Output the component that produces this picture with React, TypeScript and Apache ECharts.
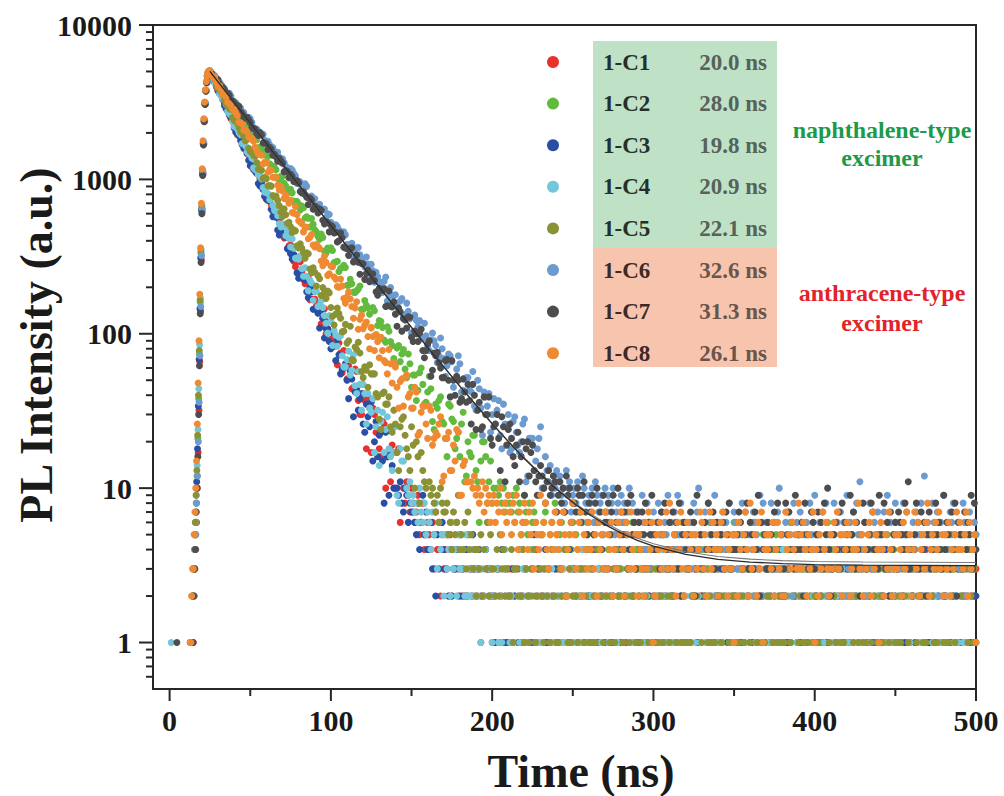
import React, { useEffect, useRef } from "react";
import * as echarts from "echarts";

// ---------- labels ----------
const sampleNames = ["1-C1", "1-C2", "1-C3", "1-C4", "1-C5", "1-C6", "1-C7", "1-C8"];
const lifetimes = ["20.0 ns", "28.0 ns", "19.8 ns", "20.9 ns", "22.1 ns", "32.6 ns", "31.3 ns", "26.1 ns"];
const seriesColors = ["#e8312c", "#62bb3e", "#2a4ea3", "#72c7db", "#8b9234", "#6b9bd1", "#4d4d4f", "#f08a32"];

const xMajorTicks = [0, 100, 200, 300, 400, 500];
const xMinorTicks = [50, 150, 250, 350, 450];
const yMajorTicks = [1, 10, 100, 1000, 10000];
const yMajorLabels = ["1", "10", "100", "1000", "10000"];
const yMinorTicks = [0.6, 0.7, 0.8, 0.9, 2, 3, 4, 5, 6, 7, 8, 9, 20, 30, 40, 50, 60, 70, 80, 90,
  200, 300, 400, 500, 600, 700, 800, 900, 2000, 3000, 4000, 5000, 6000, 7000, 8000, 9000];

const X_MIN = -10.3;
const X_MAX = 500;
const Y_MIN = 0.5;
const Y_MAX = 10000;

// ---------- data: pre-pulse points [t, counts] ----------
const preC1: number[][] = [];
const preC2: number[][] = [];
const preC3: number[][] = [];
const preC4 = [[1, 1]];
const preC5: number[][] = [];
const preC6: number[][] = [];
const preC7 = [[4.5, 1]];
const preC8: number[][] = [];

// rising edge, 0.5 ns steps from riseStart (0 = no count)
const riseStart = [13.2, 13.0, 12.8, 13.1, 12.9, 13.3, 13.0, 12.7];
const riseC1 = [0, 1, 1, 1, 2, 3, 4, 6, 10, 17, 32, 66, 140, 300, 620, 1080, 1690, 2380, 3080, 3740, 4240, 4640, 4890, 4990];
const riseC2 = [0, 0, 1, 2, 2, 3, 5, 8, 12, 21, 38, 74, 160, 330, 650, 1120, 1720, 2420, 3120, 3770, 4270, 4660, 4910, 5010];
const riseC3 = [1, 0, 1, 2, 3, 3, 5, 7, 11, 18, 34, 68, 145, 310, 630, 1090, 1700, 2390, 3090, 3750, 4250, 4650, 4900, 5000];
const riseC4 = [0, 1, 1, 2, 2, 4, 6, 9, 14, 24, 44, 85, 170, 350, 680, 1150, 1750, 2450, 3150, 3790, 4290, 4680, 4920, 5040];
const riseC5 = [0, 1, 2, 2, 3, 4, 6, 9, 13, 22, 40, 78, 165, 340, 660, 1130, 1730, 2430, 3130, 3780, 4280, 4670, 4910, 4990];
const riseC6 = [0, 1, 0, 2, 3, 4, 5, 8, 12, 20, 36, 72, 150, 320, 640, 1100, 1710, 2400, 3100, 3760, 4260, 4660, 4900, 4980];
const riseC7 = [0, 0, 1, 1, 2, 3, 4, 7, 10, 16, 30, 62, 135, 290, 600, 1060, 1670, 2360, 3060, 3730, 4230, 4640, 4880, 5010];
const riseC8 = [1, 1, 2, 3, 3, 5, 7, 10, 15, 26, 48, 90, 180, 360, 700, 1170, 1780, 2470, 3170, 3800, 4300, 4690, 4930, 5030];

// decay, even channels: 2 ns steps from t = 25 ns
const decayC1 = [4960, 4574, 3960, 3676, 3283, 3039, 2610, 2429, 2138, 2030, 1696, 1582, 1451, 1210, 1167, 1074, 907, 771, 776, 687,
  584, 589, 490, 418, 425, 375, 295, 295, 293, 224, 222, 166, 193, 151, 154, 126, 100, 126, 87, 88,
  87, 56, 62, 62, 44, 59, 37, 30, 37, 39, 17, 30, 24, 16, 26, 16, 11, 17, 17, 6];
const decayC2 = [4952, 4734, 4342, 3915, 3800, 3472, 3337, 2949, 2823, 2602, 2349, 2313, 2065, 1983, 1901, 1603, 1579, 1441, 1406, 1224,
  1195, 1013, 1046, 945, 861, 862, 724, 720, 633, 656, 573, 491, 511, 456, 409, 421, 332, 351, 346, 292,
  253, 269, 269, 206, 211, 185, 195, 144, 164, 147, 109, 141, 113, 120, 91, 111, 89, 69, 81, 66,
  79, 52, 64, 54, 37, 56, 47, 36, 53, 27, 35, 37, 27, 21, 35, 28, 18, 23, 26, 11, 20, 16, 22, 11, 15, 20, 8, 15, 10];
const decayC3 = [5030, 4400, 4091, 3603, 3349, 2869, 2621, 2405, 2019, 1917, 1679, 1581, 1329, 1229, 1131, 941, 953, 781, 729, 640,
  603, 470, 482, 450, 356, 330, 326, 248, 248, 230, 187, 199, 144, 143, 109, 126, 108, 89, 102, 67,
  73, 59, 64, 38, 51, 42, 32, 41, 23, 29, 36, 20, 16, 23, 8, 16, 17, 10];
const decayC4 = [5062, 4483, 4159, 3583, 3334, 3055, 2667, 2382, 2282, 2004, 1709, 1649, 1467, 1372, 1158, 1067, 1008, 826, 808, 765,
  630, 582, 492, 495, 460, 365, 358, 309, 320, 236, 236, 222, 165, 188, 153, 148, 117, 131, 84, 98,
  95, 72, 61, 77, 58, 46, 57, 32, 41, 41, 31, 17, 32, 27, 17, 29, 16, 17, 9, 18, 15];
const decayC5 = [4985, 4623, 4053, 3821, 3525, 3095, 2882, 2516, 2430, 2166, 2058, 1778, 1590, 1521, 1414, 1164, 1146, 1033, 909, 904,
  769, 731, 612, 644, 520, 494, 471, 372, 382, 335, 335, 263, 268, 204, 227, 199, 169, 184, 130, 134,
  135, 103, 115, 90, 68, 82, 88, 57, 61, 45, 55, 55, 39, 24, 42, 35, 25, 32, 17, 25, 29, 18, 13, 19, 20, 8, 13, 10];
const decayC6 = [4979, 4772, 4346, 4262, 3950, 3671, 3613, 3200, 3132, 2985, 2750, 2536, 2525, 2340, 2077, 2058, 1971, 1791, 1766, 1569,
  1520, 1500, 1292, 1284, 1181, 1177, 1091, 942, 963, 882, 901, 764, 748, 667, 689, 636, 567, 593, 480, 508,
  469, 430, 437, 360, 385, 332, 362, 306, 271, 283, 282, 216, 234, 214, 219, 163, 199, 177, 154, 163,
  129, 158, 125, 103, 122, 122, 93, 97, 78, 101, 84, 72, 80, 53, 74, 66, 51, 72, 42, 51,
  52, 42, 34, 50, 33, 42, 34, 23, 38, 32, 22, 35, 25, 17, 27, 23, 17, 26, 11, 21, 21, 15, 21, 10, 16];
const decayC7 = [5022, 4636, 4520, 4127, 3944, 3554, 3504, 3233, 2970, 2956, 2656, 2537, 2431, 2156, 2116, 1925, 1936, 1728, 1560, 1567,
  1455, 1311, 1320, 1121, 1124, 1080, 970, 984, 835, 831, 765, 757, 641, 659, 643, 543, 532, 457, 493, 455,
  400, 419, 360, 322, 361, 297, 291, 285, 225, 259, 223, 221, 178, 193, 196, 152, 151, 161, 112, 139,
  125, 109, 128, 89, 100, 101, 78, 78, 90, 58, 72, 65, 52, 67, 50, 67, 40, 50, 38, 42,
  47, 26, 40, 32, 24, 39, 30, 21, 25, 30, 13, 25, 19, 26, 16, 19, 11, 20, 18, 12, 19];
const decayC8 = [5038, 4547, 4280, 4035, 3548, 3405, 3078, 2860, 2708, 2343, 2285, 2094, 1882, 1847, 1616, 1459, 1434, 1291, 1113, 1145,
  1032, 917, 899, 753, 743, 733, 604, 592, 530, 457, 490, 422, 376, 378, 356, 276, 290, 245, 272, 226,
  200, 204, 158, 186, 150, 147, 107, 132, 114, 96, 110, 78, 89, 95, 67, 55, 64, 65, 45, 49,
  34, 54, 41, 33, 42, 23, 34, 26, 34, 19, 23, 26, 11, 21, 23, 13, 15, 23, 9, 15, 11];

// decay, odd channels: 2 ns steps from t = 26 ns
const midC1 = [4827, 4246, 3731, 3506, 3130, 2887, 2472, 2271, 1945, 1897, 1678, 1466, 1414, 1159, 1101, 1008, 873, 746, 780, 623,
  583, 546, 442, 458, 371, 355, 272, 302, 251, 211, 230, 168, 168, 159, 116, 145, 108, 92, 100, 63,
  75, 78, 51, 57, 45, 57, 30, 41, 18, 33, 33, 23, 18, 27, 10, 17, 19, 10, 18];
const midC2 = [4726, 4512, 4231, 3863, 3507, 3498, 3076, 2908, 2752, 2444, 2415, 2146, 2046, 1787, 1805, 1622, 1474, 1471, 1263, 1222,
  1154, 998, 1045, 904, 826, 818, 678, 689, 671, 562, 560, 557, 471, 426, 443, 343, 359, 361, 289, 295,
  266, 278, 206, 225, 186, 190, 204, 144, 153, 134, 148, 98, 122, 110, 88, 104, 84, 64, 84, 74,
  59, 74, 45, 54, 43, 60, 35, 42, 44, 24, 33, 39, 26, 16, 34, 27, 21, 16, 31, 12, 17, 22, 13, 6, 20, 16, 11, 8];
const midC3 = [4837, 4253, 3762, 3533, 3010, 2775, 2517, 2150, 2095, 1786, 1584, 1489, 1227, 1177, 1095, 906, 857, 745, 732, 574,
  568, 437, 456, 422, 350, 305, 316, 229, 233, 223, 171, 187, 145, 136, 143, 94, 107, 80, 83, 92,
  55, 60, 50, 58, 29, 44, 38, 26, 35, 25, 15, 27, 22, 15, 23, 9, 14];
const midC4 = [4860, 4221, 3903, 3471, 3271, 2770, 2615, 2200, 2123, 1946, 1694, 1508, 1452, 1190, 1136, 1054, 886, 873, 738, 678,
  661, 516, 516, 431, 415, 412, 308, 304, 264, 268, 190, 213, 188, 150, 163, 131, 101, 120, 105, 83,
  97, 61, 68, 54, 73, 41, 47, 47, 26, 33, 38, 25, 14, 31, 24, 18, 13, 25, 8, 15];
const midC5 = [4784, 4420, 3890, 3698, 3262, 2999, 2835, 2412, 2306, 2027, 1901, 1813, 1514, 1435, 1285, 1238, 1011, 1011, 912, 786,
  780, 674, 575, 590, 528, 453, 464, 360, 358, 308, 330, 249, 250, 238, 177, 185, 189, 148, 114, 147,
  126, 104, 87, 112, 67, 79, 75, 52, 58, 63, 55, 41, 28, 41, 35, 39, 23, 26, 13, 28, 22, 16, 25, 10, 16, 17, 11];
const midC6 = [4830, 4681, 4174, 4120, 3859, 3543, 3473, 3193, 2921, 2903, 2710, 2488, 2465, 2170, 2121, 1951, 1962, 1714, 1677, 1606,
  1405, 1390, 1362, 1216, 1087, 1151, 1057, 965, 885, 936, 770, 781, 748, 647, 645, 643, 598, 528, 465, 494,
  456, 457, 379, 377, 314, 359, 325, 287, 314, 242, 256, 250, 218, 185, 233, 176, 178, 179, 141, 169,
  133, 140, 101, 132, 111, 95, 117, 82, 91, 90, 65, 94, 69, 62, 72, 45, 59, 64, 43, 52,
  43, 57, 32, 44, 22, 39, 41, 30, 26, 37, 18, 26, 30, 18, 29, 19, 20, 28, 12, 21, 13, 18, 25, 10];
const midC7 = [4868, 4504, 4417, 3948, 3803, 3612, 3230, 3133, 3021, 2739, 2485, 2524, 2331, 2143, 1977, 2010, 1721, 1700, 1614, 1433,
  1397, 1365, 1271, 1142, 1025, 1045, 966, 948, 817, 795, 688, 736, 674, 605, 630, 515, 524, 504, 449, 393,
  451, 364, 357, 353, 292, 324, 243, 284, 246, 217, 245, 187, 197, 191, 150, 189, 149, 134, 147, 104,
  123, 129, 95, 104, 89, 107, 70, 86, 53, 75, 76, 60, 52, 68, 39, 50, 53, 36, 51, 36,
  37, 47, 24, 36, 25, 30, 39, 19, 26, 21, 29, 11, 24, 21, 14, 23, 16, 9, 20, 17];
const midC8 = [4736, 4603, 3997, 3815, 3547, 3151, 2984, 2830, 2596, 2324, 2078, 2032, 1855, 1766, 1530, 1451, 1259, 1283, 1160, 1033,
  1035, 856, 841, 791, 700, 610, 667, 539, 517, 492, 413, 440, 365, 368, 296, 318, 239, 275, 233, 202,
  226, 169, 173, 168, 126, 161, 124, 108, 119, 80, 96, 99, 70, 78, 65, 79, 48, 61, 33, 51,
  52, 39, 33, 45, 22, 31, 34, 21, 32, 21, 22, 29, 12, 21, 13, 19, 24, 9, 14, 11];

// background tail: counts per 1 ns channel, one base-36 digit each (0 = empty channel)
const tailStart = [145, 203, 141, 147, 161, 234, 226, 187];
const tailC1 = ["a8b97a", "8679568456", "5463746253", "4325243632", "3242503234", "2312043231",
  "1203124213", "2312032141", "0221314232", "1312204213", "2131420312", "3201221341", "1422130212", "2310241321", "1213032214", "0321412231",
  "2132201342", "1221304121", "3102231422", "2413120213", "1230412132", "2021314231", "1312220413", "3210231421", "2134102312", "1201342231",
  "2312140132", "0213221413", "3122041231", "1302312142", "2214103212", "1321240312", "2031221342", "1412302132", "2213120431", "3120412213"];
const tailC2 = ["a9b8a789", "8796a78569", "7584676395", "5674356485", "4563742546", "3547263452", "4352643517", "3425134623",
  "4253316243", "2514332634",
  "3241524313", "2435132641", "3152423305", "4231634213", "2513342426", "1342531423", "3624132514", "2343152432", "4132643215", "3241352403",
  "2531423614", "3423152342", "1354233241", "4235132453", "2413524316", "3152432243", "2431253412", "5324132634", "3142523413", "2354213425"];
const tailC3 = ["a9b87a9687", "7658469574", "4635253464", "3524233425", "2324232532", "3420243322",
  "2130241312", "1232014223", "3121052130", "2241312031", "1320221413", "0212341122", "2314012231", "3021213241", "1223042131", "2103212352",
  "1420312213", "2231402121", "0312231412", "3212041322", "1302213124", "2413120231", "1231402213", "3120231242", "2213104231", "1032213412",
  "2142031223", "3212140213", "0231223142", "2312413021", "1224031232", "3102214312", "2130322412", "1423120312", "2041322131", "3212031422"];
const tailC4 = ["a9b8", "9786a76857", "6475836452", "5342634253", "3425232423", "2313240321",
  "2031213422", "1213021432", "3122401213", "1320213142", "2413122031", "1032142213", "2221301423", "3120214132", "1402231213", "2312120341",
  "0213422131", "2131203142", "1322410213", "3012213241", "2142031312", "1230214223", "3211402132", "2103231214", "1324120312", "2213041321",
  "1032212431", "3142103221", "2213230141", "1301422312", "2430121321", "1212304213", "3021141232", "2312203141", "1240312213", "2113220341"];
const tailC5 = ["b9a8796a87", "7856475694", "5463745342", "4352436253", "3242534232", "2413320241", "3213241203", "2132314221",
  "1320421312", "2213031241", "3121420213", "2012314232", "1423120213", "2130241312", "0312213421", "2241031213", "1312422031", "3201213142",
  "2123041322", "1412213021", "3021321412", "2231401213", "1203122431", "2314210312", "1122403213", "3210312142", "2041321231", "1322142013",
  "2130312241", "1213024132", "3412201213", "2021314321", "1312231042", "2203142131"];
const tailC6 = ["dbe9cad", "bc9a8dab79", "a8b97ca869", "8a6b97895a", "7968a57869", "6857a48675", "7596483657",
  "4685736594", "6374958463", "5463857a45", "3748563926", "5473648357",
  "6354837452", "4765392846", "5483647a35", "3674528463", "7452638549", "4563748253", "5846374629", "3657485b43",
  "6248536475", "4573926458", "5364857432", "6475384c56", "3586472639", "5437685243", "4862573465"];
const tailC7 = ["db9ce", "ca8bd9acb7", "9b8a7c9a68", "87a969b758", "7958a67496", "6857946a57", "5768495637", "6475836594",
  "5463758436", "4756382564", "5374629453", "3648457362", "4563758345",
  "4576345836", "5374926453", "6453748352", "3857463945", "4628534763", "5746385a42", "3564738465", "4957364258",
  "6345874539", "5483627456", "3765485b34", "4586374625", "7345856439", "4653748265", "5374659384"];
const tailC8 = ["bac9", "a89b7a8968", "9687a57869", "7586947568", "6475836549", "5684356475", "4637524568", "5346725436", "4735264537",
  "3546243657", "4265374352", "5432637461", "2546354738", "4352647325", "6345253476", "3524736452", "4673524351", "5264357428", "3452637145",
  "4536246352", "2745364538", "5364253471", "4253746325", "3647352546", "5234648352", "4356273541", "6425374235", "3542637452", "4736245368",
  "2453647352", "5362435746", "4357263451"];

// fitted decay curves [t, counts]
const fitA = [[25, 5003], [40, 3155], [60, 1706], [80, 924], [100, 501], [120, 272], [140, 148], [160, 81.7], [180, 45.6], [200, 26.1],
  [210, 20], [220, 15.5], [230, 12.3], [240, 9.85], [250, 8.08], [260, 6.77], [270, 5.81], [280, 5.11], [290, 4.59], [300, 4.21],
  [320, 3.72], [340, 3.46], [360, 3.32], [380, 3.24], [400, 3.2], [430, 3.17], [460, 3.16], [500, 3.15]];
const fitB = [[25, 5003], [40, 3155], [60, 1706], [80, 924], [100, 501], [120, 272], [140, 148], [160, 81.8], [180, 45.8], [200, 26.3],
  [210, 20.2], [220, 15.7], [230, 12.4], [240, 10], [250, 8.2], [260, 6.9], [270, 5.96], [280, 5.26], [290, 4.74], [300, 4.36],
  [320, 3.87], [340, 3.61], [360, 3.47], [380, 3.39], [400, 3.35], [430, 3.32], [460, 3.31], [500, 3.3]];

const preList = [preC1, preC2, preC3, preC4, preC5, preC6, preC7, preC8];
const riseList = [riseC1, riseC2, riseC3, riseC4, riseC5, riseC6, riseC7, riseC8];
const decayList = [decayC1, decayC2, decayC3, decayC4, decayC5, decayC6, decayC7, decayC8];
const midList = [midC1, midC2, midC3, midC4, midC5, midC6, midC7, midC8];
const tailList = [tailC1, tailC2, tailC3, tailC4, tailC5, tailC6, tailC7, tailC8];

const FONT = "'Liberation Serif', 'Times New Roman', serif";

function buildPoints(i: number): number[][] {
  const pts: number[][] = [];
  preList[i].forEach((p) => pts.push([p[0], p[1]]));
  riseList[i].forEach((v, k) => {
    if (v > 0) pts.push([riseStart[i] + 0.5 * k, v]);
  });
  decayList[i].forEach((v, k) => pts.push([25 + 2 * k, v]));
  midList[i].forEach((v, k) => pts.push([26 + 2 * k, v]));
  const s = tailList[i].join("");
  for (let k = 0; k < s.length; k++) {
    const v = parseInt(s[k], 36);
    const t = tailStart[i] + k;
    if (v > 0 && t <= X_MAX) pts.push([t, v]);
  }
  return pts;
}

function buildOption() {
  const scatterSeries = sampleNames.map((name, i) => ({
    type: "scatter",
    name,
    data: buildPoints(i),
    symbol: "circle",
    symbolSize: 7,
    itemStyle: { color: seriesColors[i], opacity: 1 },
    silent: true,
    z: 2,
  }));

  const xTickData = [
    ...xMajorTicks.map((v) => [v, Y_MIN, 1]),
    ...xMinorTicks.map((v) => [v, Y_MIN, 0]),
  ];
  const yTickData = [
    ...yMajorTicks.map((v) => [X_MIN, v, 1]),
    ...yMinorTicks.map((v) => [X_MIN, v, 0]),
  ];

  const tickSeries = [
    {
      type: "custom",
      coordinateSystem: "cartesian2d",
      clip: false,
      silent: true,
      z: 10,
      data: xTickData,
      encode: { x: 0, y: 1 },
      renderItem: (params: any, api: any) => {
        const p = api.coord([api.value(0), api.value(1)]);
        const len = api.value(2) ? 12 : 7;
        return {
          type: "line",
          shape: { x1: p[0], y1: p[1], x2: p[0], y2: p[1] + len },
          style: { stroke: "#262626", lineWidth: 2 },
        };
      },
    },
    {
      type: "custom",
      coordinateSystem: "cartesian2d",
      clip: false,
      silent: true,
      z: 10,
      data: yTickData,
      encode: { x: 0, y: 1 },
      renderItem: (params: any, api: any) => {
        const p = api.coord([api.value(0), api.value(1)]);
        const len = api.value(2) ? 14 : 7;
        return {
          type: "line",
          shape: { x1: p[0] - len, y1: p[1], x2: p[0], y2: p[1] },
          style: { stroke: "#262626", lineWidth: 2 },
        };
      },
    },
  ];

  const fitSeries = [
    {
      type: "line",
      data: fitB,
      showSymbol: false,
      symbol: "none",
      lineStyle: { color: "#7a7a7a", width: 1.1 },
      silent: true,
      z: 5,
    },
    {
      type: "line",
      data: fitA,
      showSymbol: false,
      symbol: "none",
      lineStyle: { color: "#2b2b2b", width: 1.3 },
      silent: true,
      z: 6,
    },
  ];

  // legend block
  const graphics: any[] = [
    { type: "rect", shape: { x: 593, y: 41, width: 184, height: 207 }, style: { fill: "#bfe2c7" }, silent: true },
    { type: "rect", shape: { x: 593, y: 248, width: 184, height: 119 }, style: { fill: "#f7c5ae" }, silent: true },
  ];
  sampleNames.forEach((name, i) => {
    const y = 62 + 41.6 * i;
    const green = i < 5;
    graphics.push({ type: "circle", shape: { cx: 553, cy: y, r: 6 }, style: { fill: seriesColors[i] }, silent: true });
    graphics.push({
      type: "text", x: 603, y, silent: true,
      style: { text: name, fontFamily: FONT, fontWeight: "bold", fontSize: 23, fill: green ? "#26302a" : "#3d2a25", align: "left", verticalAlign: "middle" },
    });
    graphics.push({
      type: "text", x: 767, y, silent: true,
      style: { text: lifetimes[i], fontFamily: FONT, fontWeight: "bold", fontSize: 23, fill: green ? "#56625a" : "#6a554d", align: "right", verticalAlign: "middle" },
    });
  });
  const note = (text: string, x: number, y: number, color: string) => ({
    type: "text", x, y, silent: true,
    style: { text, fontFamily: FONT, fontWeight: "bold", fontSize: 24, fill: color, align: "center", verticalAlign: "middle" },
  });
  graphics.push(note("naphthalene-type", 882, 130, "#1c9a4a"));
  graphics.push(note("excimer", 882, 158, "#1c9a4a"));
  graphics.push(note("anthracene-type", 882, 293, "#e2232a"));
  graphics.push(note("excimer", 882, 323, "#e2232a"));
  graphics.push({
    type: "text", x: 581, y: 771, silent: true,
    style: { text: "Time (ns)", fontFamily: FONT, fontWeight: "bold", fontSize: 46, fill: "#1a1a1a", align: "center", verticalAlign: "middle" },
  });
  graphics.push({
    type: "text", x: 36, y: 345, rotation: Math.PI / 2, silent: true,
    style: { text: "PL Intensity (a.u.)", fontFamily: FONT, fontWeight: "bold", fontSize: 46, fill: "#1a1a1a", align: "center", verticalAlign: "middle" },
  });

  return {
    animation: false,
    backgroundColor: "#ffffff",
    grid: {
      left: 153, top: 25, width: 823, height: 664,
      show: true, borderColor: "#262626", borderWidth: 2, backgroundColor: "transparent",
    },
    xAxis: {
      type: "value",
      min: X_MIN,
      max: X_MAX,
      axisLine: { show: true, onZero: false, lineStyle: { color: "#262626", width: 2 } },
      axisTick: { show: false },
      splitLine: { show: false },
      axisLabel: {
        customValues: xMajorTicks,
        formatter: (v: number) => (xMajorTicks.indexOf(Math.round(v)) >= 0 && Math.abs(v - Math.round(v)) < 1e-6 ? String(Math.round(v)) : ""),
        fontFamily: FONT, fontWeight: "bold", fontSize: 30, color: "#1a1a1a", margin: 16,
      },
    },
    yAxis: {
      type: "log",
      logBase: 10,
      min: Y_MIN,
      max: Y_MAX,
      axisLine: { show: true, onZero: false, lineStyle: { color: "#262626", width: 2 } },
      axisTick: { show: false },
      minorTick: { show: false },
      splitLine: { show: false },
      axisLabel: {
        formatter: (v: number) => {
          for (let k = 0; k < yMajorTicks.length; k++) {
            if (Math.abs(v - yMajorTicks[k]) / yMajorTicks[k] < 1e-6) return yMajorLabels[k];
          }
          return "";
        },
        fontFamily: FONT, fontWeight: "bold", fontSize: 30, color: "#1a1a1a", margin: 21,
      },
    },
    graphic: graphics,
    series: [...scatterSeries, ...fitSeries, ...tickSeries],
  };
}

export default function App() {
  const ref = useRef<HTMLDivElement>(null);
  useEffect(() => {
    if (!ref.current) return;
    const chart = echarts.init(ref.current, null, { renderer: "svg" });
    chart.setOption(buildOption() as any);
    return () => chart.dispose();
  }, []);
  return (
    <div
      ref={ref}
      style={{ position: "absolute", left: 0, top: 0, width: 1004, height: 796, background: "#ffffff" }}
    />
  );
}
